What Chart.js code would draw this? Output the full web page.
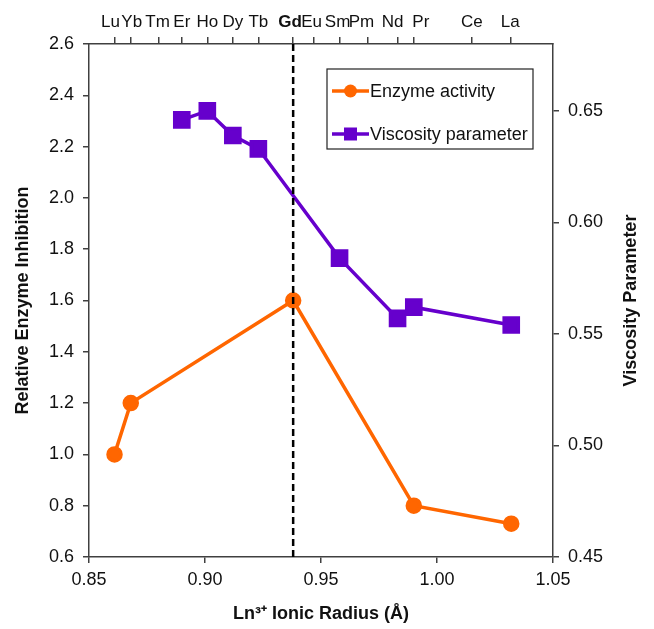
<!DOCTYPE html>
<html>
<head>
<meta charset="utf-8">
<script src="https://cdn.jsdelivr.net/npm/chart.js@4/dist/chart.umd.min.js"></script>
<style>
  html, body { margin: 0; background: #fff; }
</style>
</head>
<body>
<canvas id="grafico" width="654" height="629"></canvas>
<script>
// datos
const enzymeRadius = [0.861, 0.868, 0.938, 0.990, 1.032];
const enzymeValues = [1.00, 1.20, 1.60, 0.80, 0.73];
const viscRadius   = [0.890, 0.901, 0.912, 0.923, 0.958, 0.983, 0.990, 1.032];
const viscValues   = [0.646, 0.650, 0.639, 0.633, 0.584, 0.557, 0.562, 0.554];
const elements      = ['Lu', 'Yb', 'Tm', 'Er', 'Ho', 'Dy', 'Tb', 'Gd', 'Eu', 'Sm', 'Pm', 'Nd', 'Pr', 'Ce', 'La'];
const elementRadius = [0.861, 0.868, 0.880, 0.890, 0.901, 0.912, 0.923, 0.938, 0.947, 0.958, 0.970, 0.983, 0.990, 1.015, 1.032];
const gdRadius = 0.938;
// pequeño desplazamiento de cada etiqueta superior para que no se pisen (px)
const labelNudge = [-4, 1, -1, 0, 0, 0, 0, -3, -2.5, -2, -6, -5, 7, 0, -1];

const ORANGE = '#FF6600';
const PURPLE = '#6600CC';
const AXIS   = '#404040';
const TEXT   = '#111';
const FONT   = '"Liberation Sans", Arial, sans-serif';

Chart.defaults.font.family = FONT;
Chart.defaults.color = TEXT;

// ───────── línea discontinua en Gd
const gdLine = {
  id: 'gdLine',
  afterDatasetsDraw (chart) {
    const { ctx, chartArea } = chart;
    const x = chart.scales.x.getPixelForValue(gdRadius);
    ctx.save();
    ctx.strokeStyle = '#000';
    ctx.lineWidth = 2.5;
    ctx.setLineDash([7, 4]);
    ctx.beginPath();
    ctx.moveTo(x, chartArea.top);
    ctx.lineTo(x, chartArea.bottom);
    ctx.stroke();
    ctx.restore();
  }
};

// ───────── etiquetas de los lantánidos (eje superior)
const topLabels = {
  id: 'topLabels',
  afterDraw (chart) {
    const { ctx } = chart;
    const sc = chart.scales.xTop;
    ctx.save();
    ctx.fillStyle = TEXT;
    ctx.textAlign = 'center';
    ctx.textBaseline = 'middle';
    elements.forEach((el, i) => {
      ctx.font = (el === 'Gd' ? 'bold ' : '') + '17px ' + FONT;
      ctx.fillText(el, sc.getPixelForValue(elementRadius[i]) + labelNudge[i], 22);
    });
    ctx.restore();
  }
};

// ───────── título del eje derecho (girado como el izquierdo)
const rightTitle = {
  id: 'rightTitle',
  afterDraw (chart) {
    const { ctx, chartArea } = chart;
    ctx.save();
    ctx.translate(631, (chartArea.top + chartArea.bottom) / 2);
    ctx.rotate(-Math.PI / 2);
    ctx.font = 'bold 18px ' + FONT;
    ctx.fillStyle = TEXT;
    ctx.textAlign = 'center';
    ctx.textBaseline = 'middle';
    ctx.fillText('Viscosity Parameter', 0, 0);
    ctx.restore();
  }
};

// ───────── leyenda dentro del área
const boxLegend = {
  id: 'boxLegend',
  afterDraw (chart) {
    const { ctx } = chart;
    const x0 = 327, y0 = 69, w = 206, h = 80;
    ctx.save();
    ctx.fillStyle = '#fff';
    ctx.fillRect(x0, y0, w, h);
    ctx.strokeStyle = '#222';
    ctx.lineWidth = 1.2;
    ctx.strokeRect(x0, y0, w, h);
    ctx.font = '18px ' + FONT;
    ctx.textBaseline = 'middle';
    chart.data.datasets.forEach((ds, i) => {
      const y = y0 + 22 + i * 43;
      ctx.strokeStyle = ds.borderColor;
      ctx.lineWidth = 3.5;
      ctx.beginPath();
      ctx.moveTo(x0 + 5, y);
      ctx.lineTo(x0 + 42, y);
      ctx.stroke();
      ctx.fillStyle = ds.borderColor;
      if (ds.pointStyle === 'rect') ctx.fillRect(x0 + 17, y - 6.5, 13, 13);
      else { ctx.beginPath(); ctx.arc(x0 + 23.5, y, 6.5, 0, Math.PI * 2); ctx.fill(); }
      ctx.fillStyle = TEXT;
      ctx.fillText(ds.label, x0 + 43, y + 1);
    });
    ctx.restore();
  }
};

const xy = (xs, ys) => xs.map((x, i) => ({ x, y: ys[i] }));

const axisGrid = { drawOnChartArea: false, color: AXIS, lineWidth: 1.5, tickLength: 6, tickWidth: 1.5 };
const axisBorder = { color: AXIS, width: 1.5 };

new Chart(document.getElementById('grafico'), {
  type: 'scatter',
  data: {
    datasets: [
      {
        label: 'Enzyme activity',
        data: xy(enzymeRadius, enzymeValues),
        xAxisID: 'x', yAxisID: 'y',
        showLine: true,
        borderColor: ORANGE, backgroundColor: ORANGE,
        borderWidth: 3.5,
        pointStyle: 'circle', pointRadius: 6.5, pointHoverRadius: 6.5
      },
      {
        label: 'Viscosity parameter',
        data: xy(viscRadius, viscValues),
        xAxisID: 'x', yAxisID: 'y2',
        showLine: true,
        borderColor: PURPLE, backgroundColor: PURPLE,
        borderWidth: 3.5,
        pointStyle: 'rect', pointRadius: 10, pointHoverRadius: 10
      }
    ]
  },
  options: {
    responsive: false,
    animation: false,
    layout: { padding: 0 },
    plugins: { legend: { display: false }, tooltip: { enabled: false } },
    scales: {
      x: {
        type: 'linear', position: 'bottom', min: 0.85, max: 1.05,
        afterBuildTicks: s => { s.ticks = [0.85, 0.90, 0.95, 1.00, 1.05].map(value => ({ value })); },
        ticks: { callback: v => v.toFixed(2), font: { size: 18 }, color: TEXT, padding: 6, maxRotation: 0 },
        grid: axisGrid, border: axisBorder,
        title: { display: true, text: 'Ln³⁺ Ionic Radius (Å)', font: { size: 18, weight: 'bold' }, color: TEXT, padding: { top: 12, bottom: 4 } },
        afterFit: s => { s.height = 72; }
      },
      xTop: {
        type: 'linear', position: 'top', min: 0.85, max: 1.05,
        afterBuildTicks: s => { s.ticks = elementRadius.map(value => ({ value })); },
        ticks: { display: false },
        grid: { ...axisGrid, tickLength: 7 }, border: axisBorder,
        afterFit: s => { s.height = 44; }
      },
      y: {
        position: 'left', min: 0.6, max: 2.6,
        ticks: { stepSize: 0.2, callback: v => v.toFixed(1), font: { size: 18 }, color: TEXT, padding: 9 },
        grid: axisGrid, border: axisBorder,
        title: { display: true, text: 'Relative Enzyme Inhibition', font: { size: 18, weight: 'bold' }, color: TEXT, padding: { top: 12, bottom: 4 } },
        afterFit: s => { s.width = 89; }
      },
      y2: {
        position: 'right', min: 0.45, max: 0.68,
        afterBuildTicks: s => { s.ticks = [0.45, 0.50, 0.55, 0.60, 0.65].map(value => ({ value })); },
        ticks: { callback: v => v.toFixed(2), font: { size: 18 }, color: TEXT, padding: 9 },
        grid: axisGrid, border: axisBorder,
        afterFit: s => { s.width = 101; }
      }
    }
  },
  plugins: [gdLine, boxLegend, rightTitle, topLabels]
});
</script>
</body>
</html>
